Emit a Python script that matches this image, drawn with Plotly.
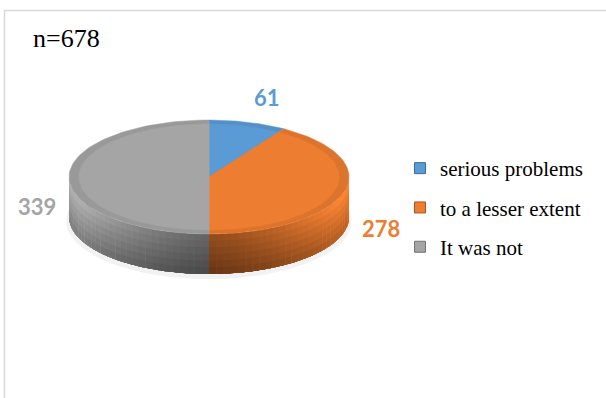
import numpy as np
import plotly.graph_objects as go

# ---------------- data ----------------
categories = ["serious problems", "to a lesser extent", "It was not"]
values = [61, 278, 339]
label_texts = [str(v) for v in values]
sample_label = "n=678"

# ---------------- style ----------------
colors = ["#5B9BD5", "#ED7D31", "#A5A5A5"]
label_pos = [(267, 97), (381, 228), (37, 206)]   # pixel positions of value labels
CX, CY, RX, RY, DEPTH = 209, 177, 140, 57, 40

W, H = 606, 398


def hex2rgb(h):
    h = h.lstrip("#")
    return tuple(int(h[i:i + 2], 16) for i in (0, 2, 4))


def shade(hexcol, f):
    r, g, b = hex2rgb(hexcol)
    return "rgb(%d,%d,%d)" % tuple(max(0, min(255, int(c * f))) for c in (r, g, b))


def pt(theta, scale=1.0, dy=0.0):
    t = np.radians(theta)
    return CX + RX * scale * np.sin(t), CY - RY * scale * np.cos(t) + dy


fig = go.Figure()

# faint shadow beneath the disc
ts = np.linspace(0, 360, 120)
sx, sy = pt(ts, 1.02, DEPTH + 4)
fig.add_trace(go.Scatter(x=sx, y=sy, fill="toself", mode="lines",
                         line=dict(width=0), fillcolor="rgba(0,0,0,0.05)",
                         showlegend=False, hoverinfo="skip"))

# angular extents of slices (clockwise from 12 o'clock)
total = sum(values)
bounds = np.concatenate([[0], np.cumsum(values) / total * 360])

# side walls (visible front half: 90..270 deg); bands overlap to avoid seams
NB = 6
for i, col in enumerate(colors):
    a0, b0 = max(bounds[i], 90), min(bounds[i + 1], 270)
    if b0 <= a0:
        continue
    nseg = max(2, int((b0 - a0) / 3))
    edges = np.linspace(a0, b0, nseg + 1)
    step = edges[1] - edges[0]
    for k in range(nseg):
        t0 = edges[k]
        t1 = min(edges[k + 1] + 0.6 * step, b0)
        tm = 0.5 * (edges[k] + edges[k + 1])
        fa = min(1.0, 0.58 + 0.47 * abs(np.sin(np.radians(tm))) ** 1.4)
        for band in range(NB):
            d0 = DEPTH * band / NB
            fv = 1.06 - 0.28 * band / (NB - 1)
            c = shade(col, fa * fv)
            arc = np.linspace(t0, t1, 4)
            x0, y0 = pt(arc, 1, d0)
            x1, y1 = pt(arc[::-1], 1, DEPTH)
            fig.add_trace(go.Scatter(
                x=np.concatenate([x0, x1]), y=np.concatenate([y0, y1]),
                fill="toself", mode="lines", line=dict(width=0),
                fillcolor=c, showlegend=False, hoverinfo="skip"))

# top face with a subtle bevel ring
for i, col in enumerate(colors):
    arc = np.linspace(bounds[i], bounds[i + 1], 80)
    xo, yo = pt(arc, 1.0)
    fig.add_trace(go.Scatter(
        x=np.concatenate([[CX], xo, [CX]]), y=np.concatenate([[CY], yo, [CY]]),
        fill="toself", mode="lines", line=dict(width=0.5, color=col),
        fillcolor=shade(col, 0.93), showlegend=False,
        hovertemplate=categories[i] + ": %d<extra></extra>" % values[i]))
    xi, yi = pt(arc, 0.93)
    fig.add_trace(go.Scatter(
        x=np.concatenate([[CX], xi, [CX]]), y=np.concatenate([[CY], yi, [CY]]),
        fill="toself", mode="lines", line=dict(width=0.5, color=col),
        fillcolor=col, showlegend=False, hoverinfo="skip"))

# legend entries
for i, (cat, col) in enumerate(zip(categories, colors)):
    fig.add_trace(go.Scatter(
        x=[None], y=[None], mode="markers", name=cat, legendgroup="g%d" % i,
        marker=dict(symbol="square", size=11, color=col,
                    line=dict(width=1, color=shade(col, 0.7)))))

# value labels
for txt, col, (lx, ly) in zip(label_texts, colors, label_pos):
    fig.add_annotation(x=lx, y=ly, text="<b>%s</b>" % txt, showarrow=False,
                       font=dict(family="Lato", size=22, color=col),
                       xanchor="center", yanchor="middle")

fig.add_annotation(x=31, y=38, text=sample_label, showarrow=False,
                   font=dict(family="Liberation Serif", size=26, color="black"),
                   xanchor="left", yanchor="middle")

# chart-area border
fig.add_shape(type="rect", x0=4.5, y0=10.5, x1=620, y1=420,
              line=dict(color="#d9d9d9", width=1.5), layer="below")

fig.update_layout(
    width=W, height=H, margin=dict(l=0, r=0, t=0, b=0),
    paper_bgcolor="white", plot_bgcolor="white",
    xaxis=dict(range=[0, W], visible=False, fixedrange=True),
    yaxis=dict(range=[H, 0], visible=False, fixedrange=True),
    legend=dict(x=400 / W, xanchor="left", y=1 - 148 / H, yanchor="top",
                font=dict(family="Liberation Serif", size=21, color="black"),
                tracegroupgap=9, bgcolor="rgba(0,0,0,0)", itemwidth=30),
    showlegend=True,
)

fig.write_html("out.html")
